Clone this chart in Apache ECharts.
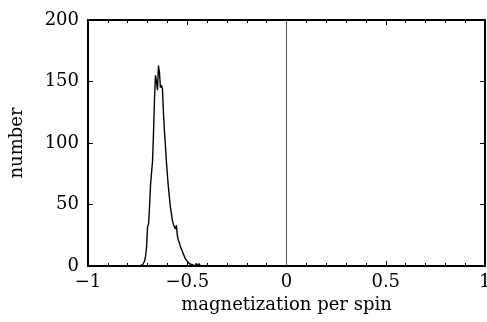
<!DOCTYPE html>
<html><head><meta charset="utf-8">
<script src="https://cdn.jsdelivr.net/npm/echarts@6/dist/echarts.min.js"></script>
<style>html,body{margin:0;padding:0;background:#fff}#c{width:487px;height:322px}</style>
</head><body><div id="c"></div>
<script>
var magnetization = [-0.740,-0.735,-0.730,-0.725,-0.720,-0.715,-0.710,-0.705,-0.700,-0.695,-0.690,-0.685,-0.680,-0.675,-0.670,-0.665,-0.660,-0.655,-0.650,-0.645,-0.640,-0.635,-0.630,-0.625,-0.620,-0.615,-0.610,-0.605,-0.600,-0.595,-0.590,-0.585,-0.580,-0.575,-0.570,-0.565,-0.560,-0.555,-0.550,-0.545,-0.540,-0.535,-0.530,-0.525,-0.520,-0.515,-0.510,-0.505,-0.500,-0.495,-0.490,-0.485,-0.480,-0.475,-0.470,-0.465,-0.460,-0.455,-0.450,-0.445,-0.440,-0.435,-0.430,-0.420,-0.400,-0.380];
var counts = [0,0,0,1,2,4,8,15,32,34,48,66,67,85,108,136,155,150,143,163,157,145,147,144,125,110,98,85,74,64,56,48,43,37,34,35,30,33,25,21,19,16,14,12,10,9,6,7,4,3,2,1,2,1,0,1,0,2,1,0,2,0,0,0,0,0];
var xTicks = [-1,-0.5,0,0.5,1];
var yTicks = [0,50,100,150,200];
var zeroLineX = 0;

var pts = magnetization.map(function(m,i){return [m, counts[i]];});
var font = 'DejaVu Serif';
function fmt(v){ return String(v).replace('-', '\u2212'); }
var chart = echarts.init(document.getElementById('c'), null, {renderer:'canvas'});
var tickStyle = {show:true,inside:true,length:5,lineStyle:{color:'#000',width:1}};
var minorStyle = {show:true,splitNumber:5,length:3,lineStyle:{color:'#000',width:1}};
chart.setOption({
  animation:false,
  grid:{left:88,right:2,top:20,bottom:56,show:false,containLabel:false,outerBoundsMode:'none'},
  xAxis:[{
    type:'value', min:xTicks[0], max:xTicks[xTicks.length-1], interval:0.5,
    axisLine:{show:true,onZero:false,lineStyle:{color:'#000',width:2}},
    axisTick:tickStyle, minorTick:minorStyle,
    splitLine:{show:false},
    axisLabel:{color:'#000',fontFamily:font,fontSize:18,margin:7,formatter:fmt},
    name:'magnetization per spin', nameLocation:'middle', nameGap:25,
    nameTextStyle:{color:'#000',fontFamily:font,fontSize:18}
  },{
    type:'value', position:'top', min:xTicks[0], max:xTicks[xTicks.length-1], interval:0.5,
    axisLine:{show:true,onZero:false,lineStyle:{color:'#000',width:2}},
    axisTick:tickStyle, minorTick:minorStyle,
    splitLine:{show:false}, axisLabel:{show:false}
  }],
  yAxis:[{
    type:'value', min:yTicks[0], max:yTicks[yTicks.length-1], interval:50,
    axisLine:{show:true,onZero:false,lineStyle:{color:'#000',width:2}},
    axisTick:tickStyle,
    splitLine:{show:false},
    axisLabel:{color:'#000',fontFamily:font,fontSize:18,margin:9},
    name:'number', nameLocation:'middle', nameGap:62, nameRotate:90,
    nameTextStyle:{color:'#000',fontFamily:font,fontSize:18}
  },{
    type:'value', position:'right', min:yTicks[0], max:yTicks[yTicks.length-1], interval:50,
    axisLine:{show:true,onZero:false,lineStyle:{color:'#000',width:2}},
    axisTick:tickStyle,
    splitLine:{show:false}, axisLabel:{show:false}
  }],
  series:[{
    type:'line', data:pts, showSymbol:false, symbol:'none',
    lineStyle:{color:'#000',width:1.4},
    markLine:{silent:true,symbol:'none',label:{show:false},
      lineStyle:{color:'#555',width:1,type:'solid'},
      data:[{xAxis:zeroLineX}]}
  }]
});
</script></body></html>
